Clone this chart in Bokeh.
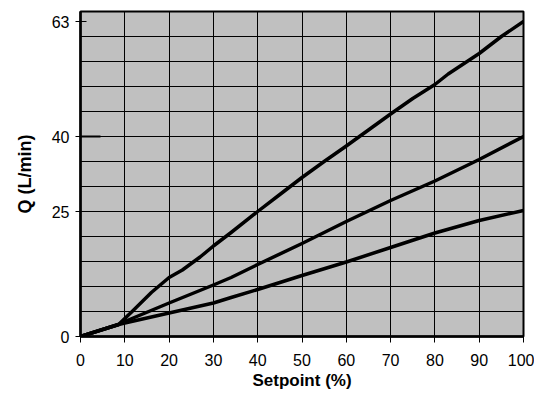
from bokeh.plotting import figure
from bokeh.models import Range1d, FixedTicker, SingleIntervalTicker
from bokeh.embed import file_html
from bokeh.resources import INLINE

# Data
setpoint_high = [0, 8.6, 10, 12, 16, 20, 23, 27, 30, 34, 40, 45, 50, 55, 60, 65, 70, 75, 80, 83, 90, 95, 100]
flow_high = [0, 2.4, 3.6, 5.3, 8.8, 11.8, 13.3, 15.9, 18.1, 20.8, 25.0, 28.4, 31.8, 35.0, 38.1, 41.3, 44.5, 47.6, 50.4, 52.5, 56.6, 60.0, 63.0]

setpoint_mid = [0, 8.6, 10, 20, 30, 34, 40, 50, 60, 70, 80, 90, 100]
flow_mid = [0, 2.4, 3.0, 6.7, 10.3, 11.8, 14.4, 18.6, 23.0, 27.2, 31.1, 35.4, 40.0]

setpoint_low = [0, 8.6, 10, 20, 30, 34, 40, 50, 60, 70, 80, 90, 100]
flow_low = [0, 2.4, 2.7, 4.7, 6.7, 7.8, 9.4, 12.2, 14.9, 17.8, 20.7, 23.2, 25.2]

x_ticks = [0, 10, 20, 30, 40, 50, 60, 70, 80, 90, 100]
y_ticks = [0, 25, 40, 63]
marked_flow = [40]

FONT = "Liberation Sans"

p = figure(width=534, height=392, output_backend="svg", toolbar_location=None,
           x_range=Range1d(0, 100), y_range=Range1d(0, 65),
           min_border_left=80, min_border_right=11, min_border_top=11, min_border_bottom=53)

p.background_fill_color = "#C0C0C0"
p.border_fill_color = "white"
p.outline_line_color = "black"
p.outline_line_width = 2

p.xgrid.ticker = FixedTicker(ticks=x_ticks)
p.ygrid.ticker = SingleIntervalTicker(interval=5)
for g in (p.xgrid, p.ygrid):
    g.grid_line_color = "black"
    g.grid_line_width = 1
    g.grid_line_alpha = 1.0

p.xaxis.ticker = FixedTicker(ticks=x_ticks)
p.yaxis.ticker = FixedTicker(ticks=y_ticks)

for ax in (p.xaxis[0], p.yaxis[0]):
    ax.axis_line_color = "black"
    ax.axis_line_width = 2.5
    ax.major_tick_line_color = "black"
    ax.major_tick_line_width = 1
    ax.minor_tick_line_color = None
    ax.major_label_text_font = FONT
    ax.major_label_text_font_size = "16px"
    ax.major_label_text_color = "black"
    ax.axis_label_text_font = FONT
    ax.axis_label_text_font_style = "bold"
    ax.axis_label_text_color = "black"

p.xaxis.axis_label_text_font_size = "17px"
p.yaxis.axis_label_text_font_size = "18px"

p.xaxis.major_tick_in = 6
p.xaxis.major_tick_out = 6
p.xaxis.major_label_standoff = 11
p.xaxis.axis_label = "Setpoint (%)"
p.xaxis.axis_label_standoff = 2

p.yaxis.major_tick_in = 6
p.yaxis.major_tick_out = 5
p.yaxis.major_label_standoff = 6
p.yaxis.axis_label = "Q (L/min)"
p.yaxis.axis_label_standoff = 14

for xs, ys in ((setpoint_high, flow_high), (setpoint_mid, flow_mid), (setpoint_low, flow_low)):
    p.line(xs, ys, line_color="black", line_width=3.5, line_join="round", line_cap="round")

p.ray(x=[0] * len(marked_flow), y=marked_flow, length=20, length_units="screen",
      angle=0, line_color="black", line_width=2)

open("out.html", "w").write(file_html(p, INLINE))
